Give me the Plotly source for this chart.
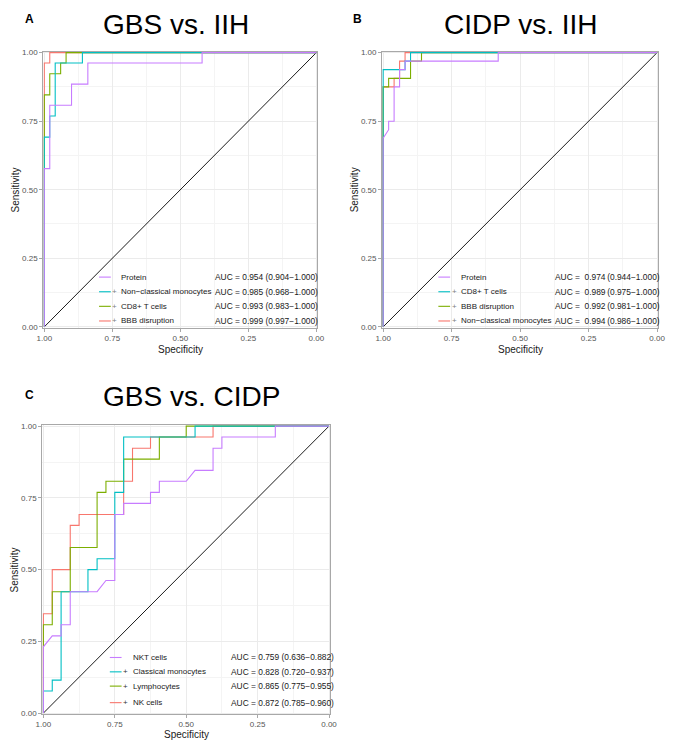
import plotly.graph_objects as go

W, H = 675, 744

# ---------------- data ----------------
colors = ["#C77CFF", "#00BFC4", "#7CAE00", "#F8766D"]

# Panel A: GBS vs. IIH
a_title = "GBS vs. IIH"
a_names = ["Protein", "Non\u2212classical monocytes", "CD8+ T cells", "BBB disruption"]
a_auc = ["AUC = 0.954 (0.904\u22121.000)", "AUC = 0.985 (0.968\u22121.000)",
         "AUC = 0.993 (0.983\u22121.000)", "AUC = 0.999 (0.997\u22121.000)"]
a_protein_spec = [1, 1, 0.98, 0.98, 0.90, 0.90, 0.84, 0.84, 0.42, 0.42, 0]
a_protein_sens = [0, 0.577, 0.577, 0.808, 0.808, 0.885, 0.885, 0.962, 0.962, 1, 1]
a_ncm_spec = [1, 1, 0.98, 0.98, 0.96, 0.96, 0.86, 0.86, 0]
a_ncm_sens = [0, 0.692, 0.692, 0.769, 0.769, 0.962, 0.962, 1, 1]
a_cd8_spec = [1, 1, 0.98, 0.98, 0.94, 0.94, 0.92, 0.92, 0]
a_cd8_sens = [0, 0.846, 0.846, 0.923, 0.923, 0.962, 0.962, 1, 1]
a_bbb_spec = [1, 1, 0.98, 0.98, 0]
a_bbb_sens = [0, 0.962, 0.962, 1, 1]

# Panel B: CIDP vs. IIH
b_title = "CIDP vs. IIH"
b_names = ["Protein", "CD8+ T cells", "BBB disruption", "Non\u2212classical monocytes"]
b_auc = ["AUC =\u00a0 0.974\u2009(0.944\u22121.000)", "AUC =\u00a0 0.989\u2009(0.975\u22121.000)",
         "AUC =\u00a0 0.992\u2009(0.981\u22121.000)", "AUC =\u00a0 0.994\u2009(0.986\u22121.000)"]
b_protein_spec = [1, 1, 0.98, 0.98, 0.96, 0.96, 0.94, 0.94, 0.92, 0.92, 0.58, 0.58, 0]
b_protein_sens = [0, 0.688, 0.719, 0.75, 0.75, 0.875, 0.875, 0.938, 0.938, 0.969, 0.969, 1, 1]
b_cd8_spec = [1, 1, 0.92, 0.92, 0.90, 0.90, 0]
b_cd8_sens = [0, 0.938, 0.938, 0.969, 0.969, 1, 1]
b_bbb_spec = [1, 1, 0.98, 0.98, 0.90, 0.90, 0.86, 0.86, 0]
b_bbb_sens = [0, 0.875, 0.875, 0.906, 0.906, 0.969, 0.969, 1, 1]
b_ncm_spec = [1, 1, 0.96, 0.96, 0.94, 0.94, 0.92, 0.92, 0]
b_ncm_sens = [0, 0.875, 0.875, 0.906, 0.906, 0.969, 0.969, 1, 1]

# Panel C: GBS vs. CIDP
c_title = "GBS vs. CIDP"
c_names = ["NKT cells", "Classical monocytes", "Lymphocytes", "NK cells"]
c_auc = ["AUC = 0.759 (0.636\u22120.882)", "AUC = 0.828 (0.720\u22120.937)",
         "AUC = 0.865 (0.775\u22120.955)", "AUC = 0.872 (0.785\u22120.960)"]
c_nkt_spec = [1, 1, 0.969, 0.938, 0.938, 0.906, 0.906, 0.812, 0.781, 0.75, 0.75, 0.719, 0.719,
              0.625, 0.625, 0.594, 0.594, 0.5, 0.469, 0.406, 0.406, 0.375, 0.375, 0.188, 0.188, 0]
c_nkt_sens = [0, 0.231, 0.269, 0.269, 0.308, 0.308, 0.423, 0.423, 0.462, 0.462, 0.692, 0.692, 0.731,
              0.731, 0.769, 0.769, 0.808, 0.808, 0.846, 0.846, 0.923, 0.923, 0.962, 0.962, 1, 1]
c_cm_spec = [1, 1, 0.969, 0.969, 0.938, 0.938, 0.844, 0.844, 0.812, 0.812, 0.75, 0.75, 0.719, 0.719,
             0.469, 0.469, 0]
c_cm_sens = [0, 0.077, 0.077, 0.115, 0.115, 0.423, 0.423, 0.5, 0.5, 0.538, 0.538, 0.769, 0.769, 0.962,
             0.962, 1, 1]
c_lym_spec = [1, 1, 0.969, 0.969, 0.906, 0.906, 0.812, 0.812, 0.781, 0.781, 0.719, 0.719, 0.594, 0.594,
              0.5, 0.5, 0]
c_lym_sens = [0, 0.308, 0.308, 0.423, 0.423, 0.577, 0.577, 0.769, 0.769, 0.808, 0.808, 0.885, 0.885,
              0.962, 0.962, 1, 1]
c_nk_spec = [1, 1, 0.969, 0.969, 0.906, 0.906, 0.875, 0.875, 0.719, 0.719, 0.688, 0.688, 0.625, 0.625,
             0.406, 0.406, 0]
c_nk_sens = [0, 0.346, 0.346, 0.5, 0.5, 0.654, 0.654, 0.692, 0.692, 0.808, 0.808, 0.923, 0.923, 0.962,
             0.962, 1, 1]

diag_spec = [1, 0]
diag_sens = [0, 1]

# ---------------- layout helpers ----------------
FONT = "Liberation Sans, Arial, Helvetica, sans-serif"


def px(x):
    return x / W


def py(y):
    return 1 - y / H


panels = [
    dict(key="", letter="A", title=a_title, names=a_names, auc=a_auc,
         series=[(a_protein_spec, a_protein_sens), (a_ncm_spec, a_ncm_sens),
                 (a_cd8_spec, a_cd8_sens), (a_bbb_spec, a_bbb_sens)],
         box=(37, 49, 317, 328), letter_xy=(23, 16), title_xy=(173, 21.7),
         ylab_x=9, xlab_y=349.5,
         leg_rows=[276.7, 291.5, 306.2, 321], sw=(94, 106), plus_x=109.5, name_x=114.5,
         auc_x=210.5, plus_col="#808080", legbox=(90, 267, 209, 327)),
    dict(key="2", letter="B", title=b_title, names=b_names, auc=b_auc,
         series=[(b_protein_spec, b_protein_sens), (b_cd8_spec, b_cd8_sens),
                 (b_bbb_spec, b_bbb_sens), (b_ncm_spec, b_ncm_sens)],
         box=(383, 49, 665, 328), letter_xy=(358, 16.5), title_xy=(525, 21.7),
         ylab_x=355, xlab_y=349.5,
         leg_rows=[276.7, 291.5, 306.2, 321], sw=(440.5, 452.5), plus_x=456.5, name_x=461.5,
         auc_x=557.5, plus_col="#808080", legbox=(437, 267, 556, 327)),
    dict(key="3", letter="C", title=c_title, names=c_names, auc=c_auc,
         series=[(c_nkt_spec, c_nkt_sens), (c_cm_spec, c_cm_sens),
                 (c_lym_spec, c_lym_sens), (c_nk_spec, c_nk_sens)],
         box=(36, 426, 330, 718), letter_xy=(23, 396), title_xy=(188, 397.3),
         ylab_x=8, xlab_y=738,
         leg_rows=[660.7, 675.2, 689.6, 706.3], sw=(105, 117), plus_x=121, name_x=127,
         auc_x=226.5, plus_col="#333333", legbox=(101, 651, 207, 717)),
]

fig = go.Figure()
annotations = []
shapes = []

for p in panels:
    xa = "x" + p["key"]
    ya = "y" + p["key"]
    # diagonal reference
    fig.add_trace(go.Scatter(x=diag_spec, y=diag_sens, mode="lines",
                             line=dict(color="black", width=0.9),
                             xaxis=xa, yaxis=ya, hoverinfo="skip", showlegend=False))
    # ROC curves, drawn so that the first series ends up on top
    for i in reversed(range(4)):
        sx, sy = p["series"][i]
        fig.add_trace(go.Scatter(x=sx, y=sy, mode="lines", name=p["names"][i],
                                 line=dict(color=colors[i], width=1.1),
                                 xaxis=xa, yaxis=ya, showlegend=False))

    x0, y0, x1, y1 = p["box"]
    axis_common = dict(
        showline=True, linecolor="#A8A8A8", linewidth=1, mirror=True,
        ticks="outside", ticklen=3, tickcolor="#A8A8A8", tickwidth=1,
        tickfont=dict(family=FONT, size=8, color="#555555"),
        tick0=0, dtick=0.25, tickformat=".2f",
        showgrid=True, gridcolor="#EBEBEB", gridwidth=1, zeroline=False,
        minor=dict(tick0=0, dtick=0.125, showgrid=True, gridcolor="#F4F4F4", gridwidth=0.8),
    )
    fig.update_layout(**{
        "xaxis" + p["key"]: dict(domain=[px(x0), px(x1)], range=[1.004, -0.004],
                                 anchor=ya, ticklabelstandoff=-1, **axis_common),
        "yaxis" + p["key"]: dict(domain=[py(y1), py(y0)], range=[-0.004, 1.004],
                                 anchor=xa, **axis_common),
    })

    # panel letter and title
    annotations.append(dict(x=px(p["letter_xy"][0]), y=py(p["letter_xy"][1]), xref="paper", yref="paper",
                            text="<b>" + p["letter"] + "</b>", showarrow=False,
                            font=dict(family=FONT, size=12, color="black"),
                            xanchor="center", yanchor="middle"))
    annotations.append(dict(x=px(p["title_xy"][0]), y=py(p["title_xy"][1]), xref="paper", yref="paper",
                            text=p["title"], showarrow=False,
                            font=dict(family=FONT, size=28, color="black"),
                            xanchor="center", yanchor="middle"))
    # axis titles
    annotations.append(dict(x=px(p["ylab_x"]), y=py((y0 + y1) / 2), xref="paper", yref="paper",
                            text="Sensitivity", textangle=-90, showarrow=False,
                            font=dict(family=FONT, size=10, color="#1a1a1a"),
                            xanchor="center", yanchor="middle"))
    annotations.append(dict(x=px((x0 + x1) / 2), y=py(p["xlab_y"]), xref="paper", yref="paper",
                            text="Specificity", showarrow=False,
                            font=dict(family=FONT, size=10, color="#1a1a1a"),
                            xanchor="center", yanchor="middle"))

    # legend background box (hides gridlines, below traces)
    lx0, ly0, lx1, ly1 = p["legbox"]
    shapes.append(dict(type="rect", xref="paper", yref="paper",
                       x0=px(lx0), x1=px(lx1), y0=py(ly1), y1=py(ly0),
                       fillcolor="white", line=dict(width=0), layer="between"))

    # legend rows
    for i in range(4):
        ry = p["leg_rows"][i]
        shapes.append(dict(type="line", xref="paper", yref="paper",
                           x0=px(p["sw"][0]), x1=px(p["sw"][1]), y0=py(ry), y1=py(ry),
                           line=dict(color=colors[i], width=1.1), layer="above"))
        if i > 0:
            annotations.append(dict(x=px(p["plus_x"]), y=py(ry), xref="paper", yref="paper",
                                    text="+", showarrow=False,
                                    font=dict(family=FONT, size=8, color=p["plus_col"]),
                                    xanchor="center", yanchor="middle"))
        annotations.append(dict(x=px(p["name_x"]), y=py(ry), xref="paper", yref="paper",
                                text=p["names"][i], showarrow=False,
                                font=dict(family=FONT, size=8, color="#1a1a1a"),
                                xanchor="left", yanchor="middle"))
        annotations.append(dict(x=px(p["auc_x"]), y=py(ry), xref="paper", yref="paper",
                                text=p["auc"][i], showarrow=False,
                                font=dict(family=FONT, size=8.4, color="#1a1a1a"),
                                xanchor="left", yanchor="middle"))

fig.update_layout(
    width=W, height=H,
    margin=dict(l=0, r=0, t=0, b=0),
    paper_bgcolor="white", plot_bgcolor="white",
    showlegend=False,
    annotations=annotations,
    shapes=shapes,
    font=dict(family=FONT),
)

fig.write_html("out.html",
               config={"displayModeBar": False},
               post_script="document.body.style.margin='0';document.body.style.overflow='hidden';")
